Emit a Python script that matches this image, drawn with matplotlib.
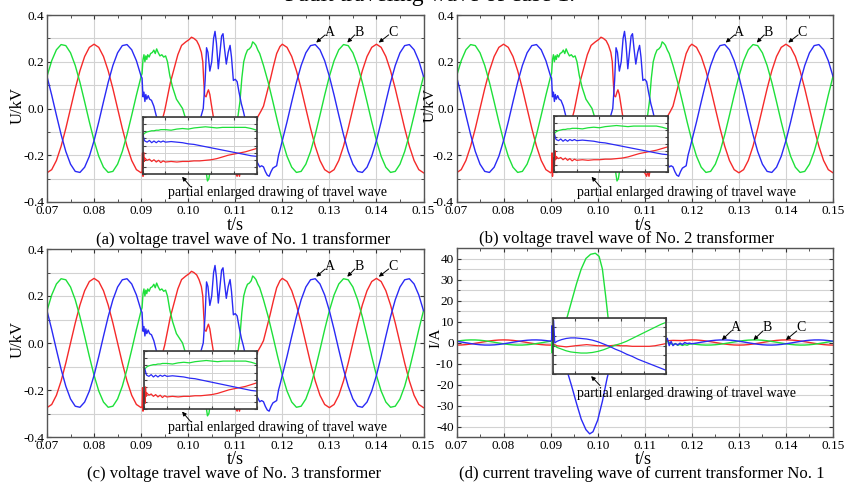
import numpy as np
import matplotlib
matplotlib.use("Agg")
import matplotlib.pyplot as plt
from matplotlib.ticker import MultipleLocator, FormatStrFormatter

plt.rcParams['font.family'] = ['Liberation Serif', 'DejaVu Serif']
plt.rcParams['axes.unicode_minus'] = False

# ---------------- data ----------------
# sampling grids of the steady-state parts
t_pre = np.linspace(0.070, 0.090, 21)
t_post = np.linspace(0.120, 0.150, 31)

# voltage, phase A (blue), B (green), C (red)
u_a_pre = [0.1375, 0.0572, -0.0287, -0.1118, -0.1840, -0.2382, -0.2690, -0.2735, -0.2512, -0.2044, -0.1375,
           -0.0572, 0.0287, 0.1118, 0.1840, 0.2382, 0.2690, 0.2735, 0.2512, 0.2044, 0.1375]
u_b_pre = [0.1375, 0.2044, 0.2512, 0.2735, 0.2690, 0.2382, 0.1840, 0.1118, 0.0287, -0.0572, -0.1375,
           -0.2044, -0.2512, -0.2735, -0.2690, -0.2382, -0.1840, -0.1118, -0.0287, 0.0572, 0.1375]
u_c_pre = [-0.275, -0.2616, -0.2225, -0.1616, -0.0850, 0.0, 0.0850, 0.1616, 0.2225, 0.2616, 0.275,
           0.2616, 0.2225, 0.1616, 0.0850, 0.0, -0.0850, -0.1616, -0.2225, -0.2616, -0.275]

u_a_post = [-0.1375, -0.0572, 0.0287, 0.1118, 0.1840, 0.2382, 0.2690, 0.2735, 0.2512, 0.2044, 0.1375,
            0.0572, -0.0287, -0.1118, -0.1840, -0.2382, -0.2690, -0.2735, -0.2512, -0.2044, -0.1375,
            -0.0572, 0.0287, 0.1118, 0.1840, 0.2382, 0.2690, 0.2735, 0.2512, 0.2044, 0.1375]
u_b_post = [-0.1375, -0.2044, -0.2512, -0.2735, -0.2690, -0.2382, -0.1840, -0.1118, -0.0287, 0.0572, 0.1375,
            0.2044, 0.2512, 0.2735, 0.2690, 0.2382, 0.1840, 0.1118, 0.0287, -0.0572, -0.1375,
            -0.2044, -0.2512, -0.2735, -0.2690, -0.2382, -0.1840, -0.1118, -0.0287, 0.0572, 0.1375]
u_c_post = [0.275, 0.2616, 0.2225, 0.1616, 0.0850, 0.0, -0.0850, -0.1616, -0.2225, -0.2616, -0.275,
            -0.2616, -0.2225, -0.1616, -0.0850, 0.0, 0.0850, 0.1616, 0.2225, 0.2616, 0.275,
            0.2616, 0.2225, 0.1616, 0.0850, 0.0, -0.0850, -0.1616, -0.2225, -0.2616, -0.275]

# fault period (irregular samples)
tf_a = [0.0902, 0.0904, 0.0906, 0.0908, 0.0910, 0.0912, 0.0915, 0.0918, 0.0922, 0.0927, 0.0932, 0.0937,
        0.0945, 0.0955, 0.0965, 0.0975, 0.0985, 0.0995, 0.1005, 0.1015, 0.1025, 0.1032, 0.1036, 0.1039,
        0.1042, 0.1046, 0.1050, 0.1054, 0.1057, 0.1060, 0.1064, 0.1068, 0.1071, 0.1074, 0.1077, 0.1081,
        0.1085, 0.1089, 0.1092, 0.1096, 0.1100, 0.1104, 0.1108, 0.1113, 0.1117, 0.1125, 0.1135, 0.1142,
        0.1148, 0.1152, 0.1156, 0.1160, 0.1164, 0.1168, 0.1172, 0.1176, 0.1180, 0.1184, 0.1188, 0.1192, 0.1196]
uf_a = [0.13, 0.05, 0.07, 0.03, 0.06, 0.04, 0.055, 0.04, 0.035, 0.01, -0.03, -0.06,
        -0.12, -0.19, -0.23, -0.25, -0.245, -0.22, -0.17, -0.11, -0.05, 0.0, 0.12, 0.26,
        0.24, 0.16, 0.20, 0.30, 0.33, 0.28, 0.17, 0.25, 0.31, 0.32, 0.26, 0.19,
        0.24, 0.27, 0.22, 0.12, 0.125, 0.115, 0.07, 0.02, -0.01, -0.08, -0.16, -0.21,
        -0.235, -0.25, -0.245, -0.25, -0.27, -0.285, -0.29, -0.27, -0.255, -0.25, -0.245, -0.20, -0.17]

tf_b = [0.0902, 0.0904, 0.0906, 0.0908, 0.0910, 0.0912, 0.0914, 0.0917, 0.0920, 0.0924, 0.0927, 0.0930,
        0.0933, 0.0936, 0.0940, 0.0944, 0.0948, 0.0952, 0.0956, 0.0961, 0.0967, 0.0975, 0.0988, 0.1000,
        0.1010, 0.1020, 0.1030, 0.1038, 0.1041, 0.1044, 0.1047, 0.1060, 0.1075, 0.1090, 0.1100, 0.1106,
        0.1110, 0.1114, 0.1118, 0.1122, 0.1126, 0.1130, 0.1134, 0.1137, 0.1140, 0.1144, 0.1148, 0.1152,
        0.1160, 0.1170, 0.1180, 0.1190]
uf_b = [0.15, 0.21, 0.23, 0.20, 0.225, 0.21, 0.23, 0.22, 0.235, 0.24, 0.25, 0.235,
        0.255, 0.24, 0.225, 0.23, 0.22, 0.225, 0.20, 0.14, 0.09, 0.04, 0.0, -0.08,
        -0.15, -0.21, -0.25, -0.27, -0.31, -0.30, -0.26, -0.24, -0.22, -0.15, -0.08, -0.03,
        0.03, 0.13, 0.20, 0.23, 0.25, 0.255, 0.265, 0.285, 0.28, 0.27, 0.25, 0.235,
        0.184, 0.112, 0.029, -0.057]

tf_c = [0.0902, 0.0903, 0.0904, 0.0905, 0.0907, 0.0910, 0.0920, 0.0930, 0.0940, 0.0950, 0.0955, 0.0962,
        0.0970, 0.0978, 0.0986, 0.0995, 0.1002, 0.1007, 0.1012, 0.1018, 0.1023, 0.1028, 0.1031, 0.1033,
        0.1035, 0.1038, 0.1041, 0.1043, 0.1046, 0.1049, 0.1053, 0.1060, 0.1070, 0.1080, 0.1090, 0.1100,
        0.1104, 0.1106, 0.1109, 0.1111, 0.1120, 0.1130, 0.1140, 0.1148, 0.1155, 0.1160, 0.1167, 0.1174,
        0.1181, 0.1188, 0.1195]
uf_c = [-0.27, -0.19, -0.29, -0.21, -0.27, -0.255, -0.22, -0.16, -0.085, -0.01, 0.04, 0.11,
        0.17, 0.23, 0.27, 0.285, 0.295, 0.305, 0.30, 0.29, 0.27, 0.24, 0.20, 0.12,
        0.055, 0.05, 0.07, 0.08, 0.06, 0.02, -0.03, -0.10, -0.18, -0.23, -0.26, -0.275,
        -0.29, -0.27, -0.29, -0.27, -0.22, -0.15, -0.08, -0.035, -0.01, 0.01, 0.065, 0.12,
        0.18, 0.235, 0.265]

# current of CT No. 1
i_a_pre = [0.62, 0.26, -0.13, -0.50, -0.83, -1.07, -1.21, -1.23, -1.13, -0.92, -0.62,
           -0.26, 0.13, 0.50, 0.83, 1.07, 1.21, 1.23, 1.13, 0.92, 0.62]
i_b_pre = [0.62, 0.92, 1.13, 1.23, 1.21, 1.07, 0.83, 0.50, 0.13, -0.26, -0.62,
           -0.92, -1.13, -1.23, -1.21, -1.07, -0.83, -0.50, -0.13, 0.26, 0.62]
i_c_pre = [-1.24, -1.18, -1.00, -0.73, -0.38, 0.00, 0.38, 0.73, 1.00, 1.18, 1.24,
           1.18, 1.00, 0.73, 0.38, 0.00, -0.38, -0.73, -1.00, -1.18, -1.24]
i_a_post = [-0.62, -0.26, 0.13, 0.50, 0.83, 1.07, 1.21, 1.23, 1.13, 0.92, 0.62,
            0.26, -0.13, -0.50, -0.83, -1.07, -1.21, -1.23, -1.13, -0.92, -0.62,
            -0.26, 0.13, 0.50, 0.83, 1.07, 1.21, 1.23, 1.13, 0.92, 0.62]
i_b_post = [-0.62, -0.92, -1.13, -1.23, -1.21, -1.07, -0.83, -0.50, -0.13, 0.26, 0.62,
            0.92, 1.13, 1.23, 1.21, 1.07, 0.83, 0.50, 0.13, -0.26, -0.62,
            -0.92, -1.13, -1.23, -1.21, -1.07, -0.83, -0.50, -0.13, 0.26, 0.62]
i_c_post = [1.24, 1.18, 1.00, 0.73, 0.38, 0.00, -0.38, -0.73, -1.00, -1.18, -1.24,
            -1.18, -1.00, -0.73, -0.38, 0.00, 0.38, 0.73, 1.00, 1.18, 1.24,
            1.18, 1.00, 0.73, 0.38, 0.00, -0.38, -0.73, -1.00, -1.18, -1.24]

tfi_a = [0.0902, 0.0903, 0.0904, 0.0905, 0.0907, 0.0915, 0.0925, 0.0935, 0.0945, 0.0955, 0.0965, 0.0975,
         0.0983, 0.0990, 0.1000, 0.1010, 0.1020, 0.1030, 0.1045, 0.1070, 0.1100, 0.1130, 0.1146, 0.1148,
         0.1152, 0.1156, 0.1160, 0.1165, 0.1170, 0.1175, 0.1180, 0.1185, 0.1190, 0.1195]
if_a = [1.0, 8.0, 4.0, 1.0, -1.0, -4.0, -8.0, -13.5, -21.0, -29.0, -36.5, -41.5,
        -43.5, -42.5, -37.0, -28.0, -17.0, -8.0, -2.5, -1.0, -0.5, 0.5, 1.5, 2.0,
        -1.5, 0.5, -1.5, -0.5, -1.2, -0.3, -1.0, 0.0, -0.5, -0.3]
tfi_b = [0.0902, 0.0903, 0.0904, 0.0905, 0.0907, 0.0915, 0.0925, 0.0935, 0.0945, 0.0955, 0.0965, 0.0975,
         0.0985, 0.0995, 0.1003, 0.1010, 0.1017, 0.1022, 0.1030, 0.1045, 0.1070, 0.1100, 0.1130, 0.1146,
         0.1150, 0.1155, 0.1160, 0.1165, 0.1170, 0.1175, 0.1180, 0.1185, 0.1190, 0.1195]
if_b = [0.5, -5.0, -2.0, 0.0, 1.0, 2.0, 5.0, 12.0, 20.0, 28.0, 35.0, 40.0,
        42.0, 42.5, 41.0, 35.0, 22.0, 12.0, 5.0, 1.5, 0.5, 0.5, 0.5, 0.5,
        0.3, -0.5, -1.0, -0.6, -1.3, -0.9, -1.4, -1.0, -1.3, -0.8]
tfi_c = [0.0902, 0.0905, 0.0920, 0.0950, 0.0980, 0.1010, 0.1040, 0.1070, 0.1100, 0.1130, 0.1146,
         0.1160, 0.1180, 0.1195]
if_c = [-1.0, -1.5, -1.0, -0.5, -1.5, -1.0, -0.5, -1.0, -0.5, -0.8, 0.8, 1.0, 0.9, 1.2]

# enlarged views (normalised inside the inset box)
zv_x = [0.0, 0.005, 0.01, 0.015, 0.02, 0.04, 0.06, 0.08, 0.10, 0.12, 0.14, 0.16, 0.18, 0.20, 0.25, 0.30,
        0.35, 0.40, 0.45, 0.50, 0.55, 0.60, 0.65, 0.70, 0.75, 0.80, 0.85, 0.90, 0.95, 1.0]
zv_a = [0.70, 0.68, 0.64, 0.60, 0.58, 0.56, 0.59, 0.55, 0.58, 0.55, 0.58, 0.56, 0.58, 0.56, 0.57, 0.56,
        0.55, 0.53, 0.52, 0.50, 0.48, 0.46, 0.44, 0.42, 0.40, 0.38, 0.36, 0.34, 0.32, 0.31]
zv_b = [0.68, 0.69, 0.70, 0.71, 0.72, 0.74, 0.75, 0.76, 0.76, 0.77, 0.77, 0.78, 0.78, 0.78, 0.77, 0.79,
        0.80, 0.79, 0.81, 0.82, 0.83, 0.82, 0.81, 0.82, 0.82, 0.82, 0.82, 0.82, 0.80, 0.77]
zv_c = [0.30, 0.10, 0.38, 0.22, 0.28, 0.24, 0.26, 0.22, 0.25, 0.21, 0.24, 0.20, 0.23, 0.21, 0.22, 0.21,
        0.22, 0.22, 0.23, 0.23, 0.24, 0.25, 0.27, 0.30, 0.33, 0.35, 0.37, 0.39, 0.42, 0.45]

zi_x = [0.0, 0.01, 0.02, 0.04, 0.08, 0.12, 0.16, 0.20, 0.25, 0.30, 0.35, 0.40, 0.45, 0.50, 0.55, 0.60,
        0.65, 0.70, 0.75, 0.80, 0.85, 0.90, 0.95, 1.0]
zi_a = [0.48, 0.95, 0.55, 0.58, 0.61, 0.63, 0.64, 0.64, 0.63, 0.62, 0.60, 0.57, 0.53, 0.49, 0.44, 0.40,
        0.35, 0.31, 0.26, 0.22, 0.18, 0.14, 0.10, 0.06]
zi_b = [0.60, 0.52, 0.50, 0.47, 0.44, 0.41, 0.39, 0.38, 0.37, 0.37, 0.38, 0.40, 0.43, 0.47, 0.51, 0.54,
        0.58, 0.63, 0.68, 0.73, 0.78, 0.83, 0.88, 0.92]
zi_c = [0.55, 0.53, 0.52, 0.50, 0.49, 0.48, 0.49, 0.50, 0.51, 0.52, 0.51, 0.50, 0.50, 0.50, 0.51, 0.50,
        0.50, 0.49, 0.49, 0.49, 0.49, 0.50, 0.52, 0.54]

captions = ["(a) voltage travel wave of No. 1 transformer",
            "(b) voltage travel wave of No. 2 transformer",
            "(c) voltage travel wave of No. 3 transformer",
            "(d) current traveling wave of current transformer No. 1"]
note = "partial enlarged drawing of travel wave"

BLUE, GREEN, RED = "#2a2af5", "#1ee03a", "#f52a2a"
GRID = "#d2d2d2"
W, H = 846, 484
ARROW = dict(arrowstyle='-|>', color='black', lw=0.7, mutation_scale=6, shrinkA=0, shrinkB=0)


def fx(px):
    return px / W


def fy(py):
    return 1 - py / H


def join(pre, fault_t, fault_v, post):
    t = np.concatenate([t_pre, fault_t, t_post])
    v = np.concatenate([pre, fault_v, post])
    return t, v


def style(ax, ylim, major, minor, fmt):
    ax.set_xlim(0.07, 0.15)
    ax.set_ylim(*ylim)
    ax.xaxis.set_major_locator(MultipleLocator(0.01))
    ax.xaxis.set_minor_locator(MultipleLocator(0.005))
    ax.yaxis.set_major_locator(MultipleLocator(major))
    ax.yaxis.set_minor_locator(MultipleLocator(minor))
    ax.xaxis.set_major_formatter(FormatStrFormatter('%.2f'))
    ax.yaxis.set_major_formatter(FormatStrFormatter(fmt))
    ax.grid(which='major', color=GRID, lw=0.8)
    ax.grid(which='minor', axis='y', color=GRID, lw=0.8)
    ax.set_axisbelow(True)
    ax.tick_params(which='both', direction='in', top=True, right=True,
                   labelsize=9.5, pad=2, colors='#333333', labelcolor='black')
    ax.tick_params(which='major', length=3)
    ax.tick_params(which='minor', length=2)
    for s in ax.spines.values():
        s.set_color('#555555')
        s.set_linewidth(1.0)


def add_inset(ax, box, xs, ya, yb, yc, nrows):
    ins = ax.inset_axes(box, transform=ax.transData)
    ins.set_xlim(0, 1)
    ins.set_ylim(0, 1)
    ins.set_xticks(np.linspace(0, 1, 6))
    ins.set_yticks(np.linspace(0, 1, nrows + 1))
    ins.grid(color=GRID, lw=0.7)
    ins.tick_params(direction='in', length=2, top=True, right=True,
                    labelbottom=False, labelleft=False, colors='#444444')
    for s in ins.spines.values():
        s.set_color('#3a3a3a')
        s.set_linewidth(1.2)
    ins.plot(xs, yc, color=RED, lw=0.9)
    ins.plot(xs, yb, color=GREEN, lw=0.9)
    ins.plot(xs, ya, color=BLUE, lw=0.9)
    return ins


def phase_labels(ax, items, ytext, ytail, yhead):
    for lab, tx, hx in items:
        ax.text(tx, ytext, lab, ha='center', va='center', fontsize=10)
        ax.annotate("", xy=(hx, yhead), xytext=(tx - 0.0009, ytail), arrowprops=ARROW)


fig = plt.figure(figsize=(W / 100, H / 100), dpi=100)

panels = [
    (47, 423.5, 15, 202),
    (456.5, 833, 15, 202),
    (47, 423.5, 249, 437),
    (456.5, 833, 248, 437),
]
axes = []
for (l, r, t, b) in panels:
    axes.append(fig.add_axes([fx(l), fy(b), (r - l) / W, (b - t) / H]))

# voltage panels
va = join(u_a_pre, tf_a, uf_a, u_a_post)
vb = join(u_b_pre, tf_b, uf_b, u_b_post)
vc = join(u_c_pre, tf_c, uf_c, u_c_post)
inset_boxes = [[0.0903, -0.280, 0.0243, 0.243],
               [0.0907, -0.272, 0.0242, 0.240],
               [0.0907, -0.282, 0.0239, 0.250]]
for k in range(3):
    ax = axes[k]
    style(ax, (-0.4, 0.4), 0.2, 0.1, '%.1f')
    ax.plot(*vc, color=RED, lw=1.0)
    ax.plot(*vb, color=GREEN, lw=1.0)
    ax.plot(*va, color=BLUE, lw=1.0)
    add_inset(ax, inset_boxes[k], zv_x, zv_a, zv_b, zv_c, 8)
    phase_labels(ax, [("A", 0.1300, 0.1272), ("B", 0.1363, 0.1338), ("C", 0.1435, 0.1405)],
                 0.327, 0.315, 0.282)
    ax.annotate("", xy=(0.0987, -0.292), xytext=(0.1005, -0.334), arrowprops=ARROW)
    ax.text(0.1189, -0.357, note, ha='center', va='center', fontsize=10)

# current panel
ax = axes[3]
style(ax, (-45, 45), 10, 5, '%d')
ia = join(i_a_pre, tfi_a, if_a, i_a_post)
ib = join(i_b_pre, tfi_b, if_b, i_b_post)
ic = join(i_c_pre, tfi_c, if_c, i_c_post)
ax.plot(*ic, color=RED, lw=1.0)
ax.plot(*ib, color=GREEN, lw=1.0)
ax.plot(*ia, color=BLUE, lw=1.0)
add_inset(ax, [0.0904, -14.9, 0.0242, 26.7], zi_x, zi_a, zi_b, zi_c, 6)
phase_labels(ax, [("A", 0.1293, 0.1264), ("B", 0.1360, 0.1331), ("C", 0.1432, 0.1400)],
             7.3, 5.5, 1.2)
ax.annotate("", xy=(0.0986, -16.0), xytext=(0.1005, -20.5), arrowprops=ARROW)
ax.text(0.1189, -24.1, note, ha='center', va='center', fontsize=10)

# axis titles and captions
for (x, y) in [(235, 225), (643, 225), (235, 459), (643, 459)]:
    fig.text(fx(x), fy(y), "t/s", ha='center', va='center', fontsize=13)
for (x, y) in [(18, 105), (18, 340)]:
    fig.text(fx(x), fy(y), "U/kV", ha='center', va='center', rotation=90, fontsize=12)
fig.text(fx(430), fy(105), "U/kV", ha='center', va='center', rotation=90, fontsize=11)
fig.text(fx(436), fy(338), "I/A", ha='center', va='center', rotation=90, fontsize=11)
for cap, (x, y) in zip(captions, [(243, 240), (627, 239), (234, 474), (642, 474)]):
    fig.text(fx(x), fy(y), cap, ha='center', va='center', fontsize=12)

# top title, cut off by the image border
fig.text(fx(430), fy(1), "Fault traveling wave of case 1.", ha='center', va='baseline', fontsize=17)

fig.savefig("out.png", dpi=100)
